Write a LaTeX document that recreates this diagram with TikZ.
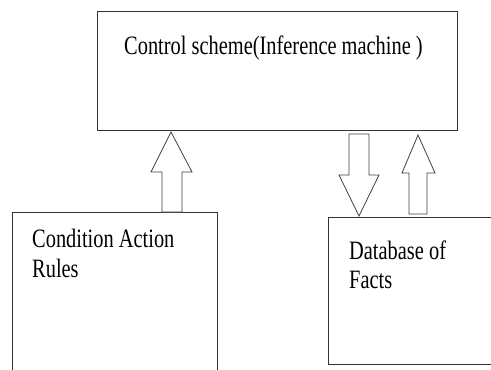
\documentclass[tikz,border=0pt]{standalone}
\usepackage{fontspec}
\setmainfont{Liberation Serif}
\begin{document}
\begin{tikzpicture}[x=1pt,y=-1pt,
  box/.style={draw=black!80,line width=0.9pt,rectangle,inner sep=0pt,anchor=north west},
  lbl/.style={inner sep=0pt,anchor=base west,font=\fontsize{20.4}{24}\selectfont},
  barrow/.style={draw=black!75,line width=0.8pt,fill=white,line join=miter}]
\useasboundingbox (0,0) rectangle (491,370);
\begin{scope}
\clip (0,0) rectangle (491,370);
\node[box,minimum width=360pt,minimum height=119pt] (ctrl) at (97,11) {};
\node[box,minimum width=205pt,minimum height=200pt] (rules) at (12,212) {};
\node[box,minimum width=180pt,minimum height=147pt] (facts) at (328,217) {};
\end{scope}
\node[lbl] (t1) at (124,54) {\scalebox{1}[1.3]{Control scheme(Inference machine )}};
\node[lbl] (t2) at (32,247) {\scalebox{1}[1.3]{Condition Action}};
\node[lbl] (t3) at (32,277) {\scalebox{1}[1.3]{Rules}};
\node[lbl] (t4) at (349,259) {\scalebox{1}[1.3]{Database of}};
\node[lbl] (t5) at (349,288) {\scalebox{1}[1.3]{Facts}};
% up arrow from rules to control
\draw[barrow] (162,212) -- (162,172) -- (151,172) -- (171,132) -- (192,172) -- (182,172) -- (182,212) -- cycle;
% down arrow from control to facts
\draw[barrow] (349,134) -- (349,175) -- (339,175) -- (359,216) -- (379,175) -- (369,175) -- (369,134) -- cycle;
% up arrow from facts to control
\draw[barrow] (409,214) -- (409,173) -- (402,173) -- (418,135) -- (435,173) -- (427,173) -- (427,214) -- cycle;
\end{tikzpicture}
\end{document}
